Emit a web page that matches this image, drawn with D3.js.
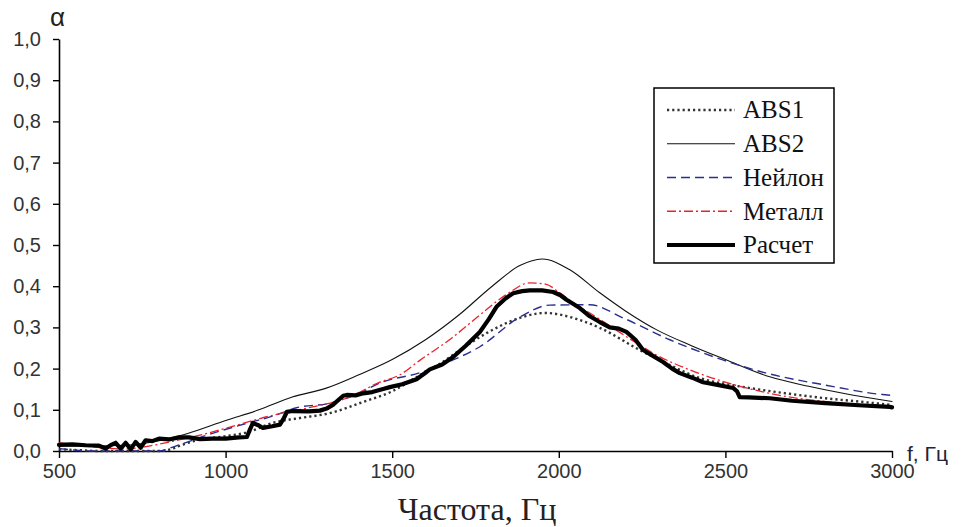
<!DOCTYPE html>
<html><head><meta charset="utf-8">
<script src="https://cdn.jsdelivr.net/npm/d3@7"></script>
<style>body{margin:0;background:#fff}svg{display:block}</style>
</head><body>
<svg id="c" width="963" height="527"></svg>
<script>
// ---- data ----
const xTicks = [500, 1000, 1500, 2000, 2500, 3000];
const yTicks = [0, 0.1, 0.2, 0.3, 0.4, 0.5, 0.6, 0.7, 0.8, 0.9, 1.0];
const seriesNames = ["ABS1", "ABS2", "Нейлон", "Металл", "Расчет"];

const abs1F = [500, 560, 620, 800, 830, 870, 917, 1000, 1058, 1150, 1223, 1313, 1412, 1500, 1583, 1650, 1703, 1783, 1883, 1958, 2063, 2123, 2243, 2330, 2423, 2520, 2612, 2700, 2800, 2900, 3000];
const abs1A = [0.004, 0.002, 0, 0, 0.003, 0.015, 0.027, 0.036, 0.044, 0.07, 0.08, 0.092, 0.119, 0.145, 0.184, 0.215, 0.245, 0.286, 0.323, 0.335, 0.318, 0.299, 0.245, 0.21, 0.177, 0.16, 0.148, 0.138, 0.128, 0.12, 0.112];

const abs2F = [500, 600, 700, 800, 884, 1000, 1100, 1200, 1300, 1400, 1500, 1600, 1700, 1800, 1883, 1950, 2033, 2123, 2200, 2294, 2400, 2500, 2633, 2750, 2880, 3000];
const abs2A = [0.012, 0.012, 0.014, 0.025, 0.042, 0.074, 0.10, 0.131, 0.152, 0.185, 0.222, 0.27, 0.33, 0.40, 0.45, 0.466, 0.44, 0.384, 0.34, 0.294, 0.255, 0.222, 0.18, 0.157, 0.136, 0.12];

const nylonF = [500, 550, 600, 800, 850, 950, 1067, 1143, 1213, 1313, 1400, 1463, 1583, 1680, 1763, 1883, 1973, 2093, 2193, 2333, 2492, 2633, 2800, 2972, 3000];
const nylonA = [0.006, 0.002, 0, 0, 0.012, 0.04, 0.068, 0.085, 0.105, 0.116, 0.14, 0.165, 0.19, 0.22, 0.253, 0.325, 0.354, 0.355, 0.323, 0.27, 0.221, 0.187, 0.16, 0.137, 0.135];

const metalF = [500, 600, 700, 770, 850, 950, 1013, 1143, 1250, 1363, 1463, 1523, 1583, 1680, 1763, 1843, 1913, 1960, 2003, 2053, 2093, 2160, 2233, 2293, 2393, 2480, 2563, 2633, 2700, 2803, 2900, 3000];
const metalA = [0.02, 0.01, 0.005, 0.012, 0.025, 0.044, 0.058, 0.087, 0.105, 0.128, 0.167, 0.185, 0.22, 0.275, 0.33, 0.38, 0.408, 0.405, 0.384, 0.354, 0.335, 0.30, 0.262, 0.233, 0.197, 0.172, 0.153, 0.14, 0.13, 0.12, 0.113, 0.108];

const calcF = [500, 540, 580, 620, 640, 655, 670, 685, 700, 715, 730, 745, 760, 780, 800, 830, 860, 890, 923, 960, 1000, 1040, 1064, 1072, 1082, 1100, 1112, 1140, 1163, 1175, 1184, 1200, 1250, 1283, 1303, 1322, 1340, 1353, 1364, 1390, 1413, 1440, 1470, 1493, 1530, 1573, 1600, 1613, 1650, 1683, 1720, 1763, 1790, 1813, 1840, 1863, 1890, 1913, 1950, 1983, 2005, 2023, 2045, 2063, 2093, 2123, 2153, 2180, 2203, 2230, 2253, 2280, 2313, 2340, 2363, 2400, 2433, 2480, 2523, 2535, 2543, 2570, 2633, 2700, 2800, 2900, 2993, 3000];
const calcA = [0.015, 0.016, 0.014, 0.013, 0.006, 0.014, 0.02, 0.006, 0.02, 0.004, 0.022, 0.008, 0.026, 0.024, 0.03, 0.028, 0.033, 0.033, 0.029, 0.03, 0.03, 0.033, 0.034, 0.05, 0.068, 0.062, 0.056, 0.06, 0.064, 0.08, 0.095, 0.097, 0.096, 0.098, 0.103, 0.112, 0.125, 0.134, 0.136, 0.135, 0.14, 0.143, 0.15, 0.155, 0.162, 0.174, 0.19, 0.198, 0.21, 0.228, 0.255, 0.289, 0.32, 0.35, 0.37, 0.383, 0.388, 0.39, 0.39, 0.386, 0.378, 0.367, 0.356, 0.347, 0.327, 0.313, 0.30, 0.297, 0.289, 0.27, 0.245, 0.232, 0.216, 0.2, 0.189, 0.178, 0.167, 0.16, 0.153, 0.145, 0.131, 0.13, 0.128, 0.122, 0.116, 0.111, 0.107, 0.106];

// ---- chart ----
const svg = d3.select("#c");
const x = d3.scaleLinear().domain([500, 3000]).range([59, 892]);
const y = d3.scaleLinear().domain([0, 1]).range([451, 39]);

const styles = [
  {f: abs1F, a: abs1A, color: "#333", width: 2.4, dash: "2.2,3", curve: d3.curveMonotoneX},
  {f: abs2F, a: abs2A, color: "#111", width: 1.1, dash: null, curve: d3.curveMonotoneX},
  {f: nylonF, a: nylonA, color: "#2a2f8f", width: 1.4, dash: "9,5", curve: d3.curveMonotoneX},
  {f: metalF, a: metalA, color: "#e8232b", width: 1.3, dash: "9,3,2,3", curve: d3.curveMonotoneX},
  {f: calcF, a: calcA, color: "#000", width: 4.2, dash: null, curve: d3.curveLinear}
];

const font = "Liberation Sans, Arial, sans-serif";
const serif = "Liberation Serif, Times New Roman, serif";

// axes
const xAxis = d3.axisBottom(x).tickValues(xTicks).tickSize(7).tickSizeOuter(0).tickFormat(d3.format("d"));
const gx = svg.append("g").attr("transform", "translate(0,451)").call(xAxis);
gx.select(".domain").attr("stroke", "#000").attr("stroke-width", 1.6);
gx.selectAll(".tick line").attr("stroke", "#000").attr("stroke-width", 1.4);
gx.selectAll(".tick text").attr("font-family", font).attr("font-size", 20).attr("fill", "#333").attr("dy", "0.95em").attr("y", 8);

const yAxis = d3.axisLeft(y).tickValues(yTicks).tickSize(6).tickSizeOuter(0).tickFormat(d => d3.format(".1f")(d).replace(".", ","));
const gy = svg.append("g").attr("transform", "translate(59,0)").call(yAxis);
gy.select(".domain").attr("stroke", "#000").attr("stroke-width", 1.6);
gy.selectAll(".tick line").attr("stroke", "#000").attr("stroke-width", 1.4);
gy.selectAll(".tick text").attr("font-family", font).attr("font-size", 20).attr("fill", "#333").attr("x", -18);

// lines
styles.forEach(s => {
  const pts = s.f.map((f, i) => [f, s.a[i]]);
  svg.append("path")
    .attr("d", d3.line().x(d => x(d[0])).y(d => y(d[1])).curve(s.curve)(pts))
    .attr("fill", "none").attr("stroke", s.color).attr("stroke-width", s.width)
    .attr("stroke-dasharray", s.dash).attr("stroke-linejoin", "round").attr("stroke-linecap", s.dash ? "butt" : "round");
});

// labels
svg.append("text").attr("x", 50).attr("y", 26).attr("font-family", font).attr("font-size", 26).attr("fill", "#222").text("α");
svg.append("text").attr("x", 907).attr("y", 461).attr("font-family", font).attr("font-size", 21).attr("fill", "#22223a").text("f, Гц");
svg.append("text").attr("x", 477).attr("y", 520).attr("text-anchor", "middle").attr("font-family", serif).attr("font-size", 32).attr("fill", "#222").text("Частота, Гц");

// legend
const lg = svg.append("g");
lg.append("rect").attr("x", 654).attr("y", 88).attr("width", 180).attr("height", 175).attr("fill", "#fff").attr("stroke", "#000").attr("stroke-width", 1.5);
const ly = d3.scalePoint().domain(seriesNames).range([110, 245]);
seriesNames.forEach((n, i) => {
  const s = styles[i];
  lg.append("line").attr("x1", 667).attr("x2", 735).attr("y1", ly(n)).attr("y2", ly(n))
    .attr("stroke", s.color).attr("stroke-width", s.width).attr("stroke-dasharray", s.dash);
  lg.append("text").attr("x", 743).attr("y", ly(n)).attr("dy", "0.33em").attr("font-family", serif).attr("font-size", 25).attr("fill", "#111").text(n);
});
</script>
</body></html>
